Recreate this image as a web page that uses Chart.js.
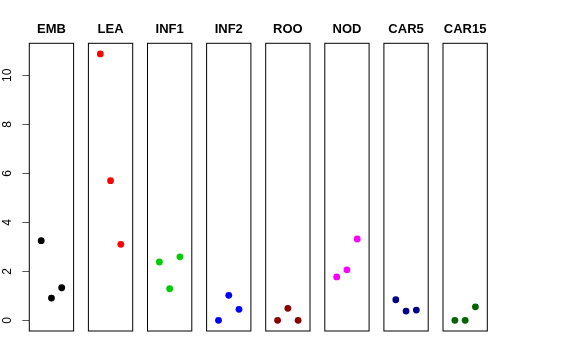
<!DOCTYPE html>
<html>
<head>
<meta charset="utf-8">
<script src="https://cdn.jsdelivr.net/npm/chart.js@4/dist/chart.umd.min.js"></script>
<style>
  html, body { margin: 0; padding: 0; background: #fff; }
  #wrap { position: relative; width: 576px; height: 360px; overflow: hidden; background: #fff; }
  #wrap canvas { position: absolute; top: 0; }
</style>
</head>
<body>
<div id="wrap"></div>
<script>
// ---- data ----
const categories = ["EMB", "LEA", "INF1", "INF2", "ROO", "NOD", "CAR5", "CAR15"];
const colors = ["#000000", "#FF0000", "#00CD00", "#0000FF", "#8B0000", "#FF00FF", "#00008B", "#006400"];
const replicates = [1, 2, 3];
const emb   = [3.25, 0.91, 1.33];
const lea   = [10.87, 5.70, 3.10];
const inf1  = [2.38, 1.29, 2.59];
const inf2  = [0.00, 1.02, 0.45];
const roo   = [0.00, 0.49, 0.00];
const nod   = [1.77, 2.06, 3.32];
const car5  = [0.84, 0.38, 0.42];
const car15 = [0.00, 0.00, 0.55];
const yTicks = [0, 2, 4, 6, 8, 10];
const seriesValues = [emb, lea, inf1, inf2, roo, nod, car5, car15];

// ---- shared scale limits (R-style 4% expansion) ----
const allVals = seriesValues.flat();
const dMin = Math.min(...allVals), dMax = Math.max(...allVals);
const yMin = dMin - 0.04 * (dMax - dMin);
const yMax = dMax + 0.04 * (dMax - dMin);
const xMin = 0 - 0.04 * 4, xMax = 4 + 0.04 * 4;

// ---- layout ----
const H = 360;
const areaTop = 43.3, areaBottom = 331;
const firstLeft = 29.3, pitch = 59.1, panelW = 44.3;
const axisW = 29.3;
const titleLH = 13 * 1.2;
const titlePadTop = 21.8;
const titlePadBottom = areaTop - titlePadTop - titleLH;

const boxPlugin = {
  id: 'panelBox',
  afterDatasetsDraw(chart) {
    const a = chart.chartArea, ctx = chart.ctx;
    ctx.save();
    ctx.strokeStyle = '#000';
    ctx.lineWidth = 1;
    ctx.strokeRect(a.left, a.top, a.right - a.left, a.bottom - a.top);
    ctx.restore();
  }
};

Chart.defaults.font.family = "'Liberation Sans', Arial, Helvetica, sans-serif";
Chart.defaults.color = '#000';

const wrap = document.getElementById('wrap');

categories.forEach((cat, i) => {
  const panelLeft = firstLeft + i * pitch;
  let canvasLeft, canvasW, padL, padR;
  if (i === 0) {
    canvasLeft = 0; canvasW = 110;
    padL = 0;
    padR = canvasW - (axisW + panelW + axisW);
  } else {
    canvasLeft = Math.floor(panelLeft) - 8; canvasW = 62;
    padL = panelLeft - canvasLeft;
    padR = canvasW - padL - panelW;
  }
  const cv = document.createElement('canvas');
  cv.width = canvasW; cv.height = H;
  cv.style.left = canvasLeft + 'px';
  cv.style.width = canvasW + 'px';
  cv.style.height = H + 'px';
  wrap.appendChild(cv);

  const scales = {
    x: { type: 'linear', min: xMin, max: xMax, display: false },
    y: {
      type: 'linear', min: yMin, max: yMax,
      display: i === 0,
      position: 'left',
      afterBuildTicks: s => { s.ticks = yTicks.map(v => ({ value: v })); },
      grid: { display: true, drawOnChartArea: false, drawTicks: true, tickLength: 7, color: '#555', lineWidth: 1 },
      border: { display: false },
      ticks: {
        minRotation: 90, maxRotation: 90, crossAlign: 'center', padding: 8,
        font: { size: 12 }, color: '#000',
        callback: v => String(v)
      }
    }
  };
  if (i === 0) {
    scales.y.afterFit = s => { s.width = axisW; };
    scales.yR = {
      type: 'linear', min: yMin, max: yMax, position: 'right', display: true,
      grid: { display: false }, border: { display: false }, ticks: { display: false },
      afterFit: s => { s.width = axisW; }
    };
  }

  new Chart(cv, {
    type: 'scatter',
    data: {
      datasets: [{
        label: cat,
        data: seriesValues[i].map((v, j) => ({ x: replicates[j], y: v })),
        backgroundColor: colors[i],
        borderColor: colors[i],
        borderWidth: 0,
        pointRadius: 3.4,
        pointHoverRadius: 3.4,
        showLine: false
      }]
    },
    options: {
      responsive: false,
      animation: false,
      devicePixelRatio: 1,
      layout: { padding: { left: padL, right: padR, top: 0, bottom: H - areaBottom } },
      plugins: {
        legend: { display: false },
        tooltip: { enabled: false },
        title: {
          display: true, text: cat, color: '#000',
          font: { size: 13, weight: 'bold' },
          padding: { top: titlePadTop, bottom: titlePadBottom }
        }
      },
      scales
    },
    plugins: [boxPlugin]
  });
});
</script>
</body>
</html>
